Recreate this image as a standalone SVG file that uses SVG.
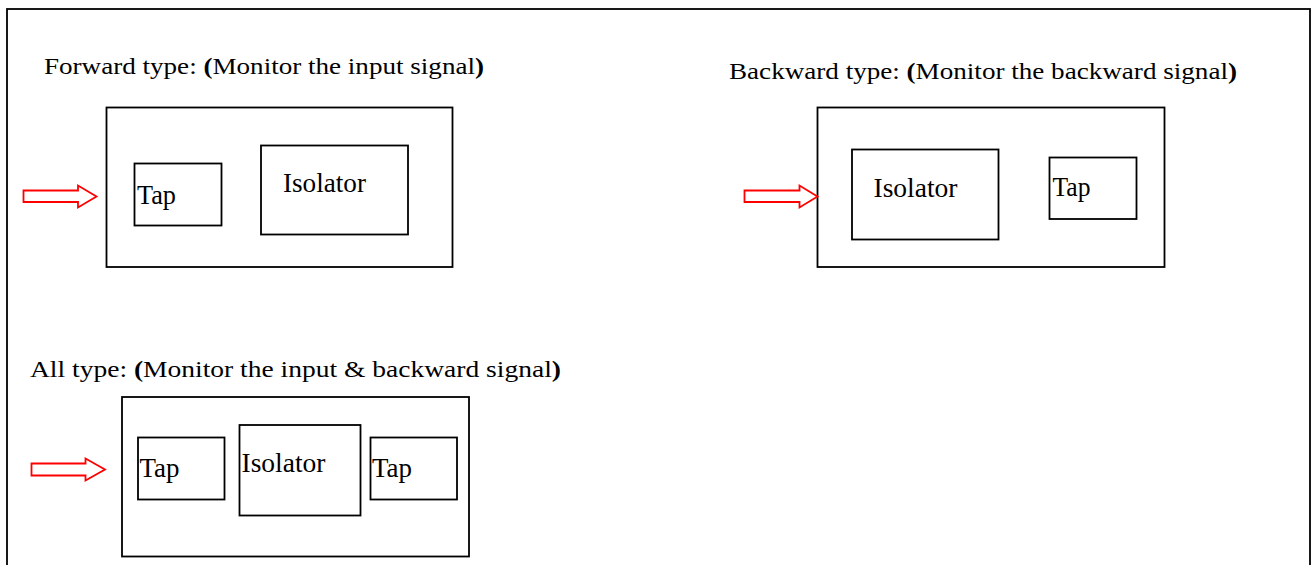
<svg xmlns="http://www.w3.org/2000/svg" width="1316" height="565" viewBox="0 0 1316 565" font-family="Liberation Serif, Times New Roman, serif">
<style>
.box{fill:none;stroke:#000;stroke-width:1.8}
.arrow{fill:#fff;stroke:#ff0000;stroke-width:1.8;stroke-linejoin:miter}
text{font-family:'Liberation Serif',serif;fill:#000}
.title{font-size:23.5px}
.lbl{font-size:28px}
.b{font-weight:bold}
</style>
<rect x="7" y="9" width="1303" height="600" fill="#fff" stroke="#000" stroke-width="1.8"/>
<text class="title" x="44" y="73.5" textLength="440" lengthAdjust="spacingAndGlyphs">Forward type: <tspan class="b">(</tspan>Monitor the input signal<tspan class="b">)</tspan></text>
<text class="title" x="729" y="79" textLength="508" lengthAdjust="spacingAndGlyphs">Backward type: <tspan class="b">(</tspan>Monitor the backward signal<tspan class="b">)</tspan></text>
<text class="title" x="30" y="377" textLength="531" lengthAdjust="spacingAndGlyphs">All type: <tspan class="b">(</tspan>Monitor the input &amp; backward signal<tspan class="b">)</tspan></text>
<g id="forward">
<rect class="box" x="106.5" y="107.5" width="346" height="159.5"/>
<g id="fwd-tap"><rect class="box" x="134.5" y="163.5" width="87" height="62"/><text class="lbl" x="137" y="203.5" textLength="39" lengthAdjust="spacingAndGlyphs">Tap</text></g>
<g id="fwd-isolator"><rect class="box" x="261" y="145.5" width="147" height="89"/><text class="lbl" x="283" y="191.5" textLength="83" lengthAdjust="spacingAndGlyphs">Isolator</text></g>
</g>
<g id="backward">
<rect class="box" x="817.5" y="107.5" width="347" height="159.5"/>
<g id="bwd-isolator"><rect class="box" x="852" y="149.5" width="146.5" height="90"/><text class="lbl" x="873.5" y="196.5" textLength="84" lengthAdjust="spacingAndGlyphs">Isolator</text></g>
<g id="bwd-tap"><rect class="box" x="1049.5" y="157.5" width="87" height="61.5"/><text class="lbl" x="1052.5" y="195.5" textLength="38" lengthAdjust="spacingAndGlyphs">Tap</text></g>
</g>
<g id="all">
<rect class="box" x="122" y="397" width="347" height="159.5"/>
<g id="all-tap1"><rect class="box" x="138" y="437.5" width="86.5" height="62"/><text class="lbl" x="139.5" y="477" textLength="40" lengthAdjust="spacingAndGlyphs">Tap</text></g>
<g id="all-isolator"><rect class="box" x="239.5" y="425" width="121" height="90.5"/><text class="lbl" x="241.5" y="472" textLength="84" lengthAdjust="spacingAndGlyphs">Isolator</text></g>
<g id="all-tap2"><rect class="box" x="370.5" y="437.5" width="86.5" height="62"/><text class="lbl" x="372" y="477" textLength="40" lengthAdjust="spacingAndGlyphs">Tap</text></g>
</g>
<g id="connectors">
<polygon class="arrow" points="23.5,190.5 78,190.5 78,185.5 96.5,196.5 78,207.5 78,202 23.5,202"/>
<polygon class="arrow" points="744.5,190.5 799.5,190.5 799.5,185.5 817.5,196.5 799.5,207.5 799.5,202 744.5,202"/>
<polygon class="arrow" points="31.5,463.5 85.5,463.5 85.5,458.5 105,469.5 85.5,480.5 85.5,475.5 31.5,475.5"/>
</g>
</svg>
